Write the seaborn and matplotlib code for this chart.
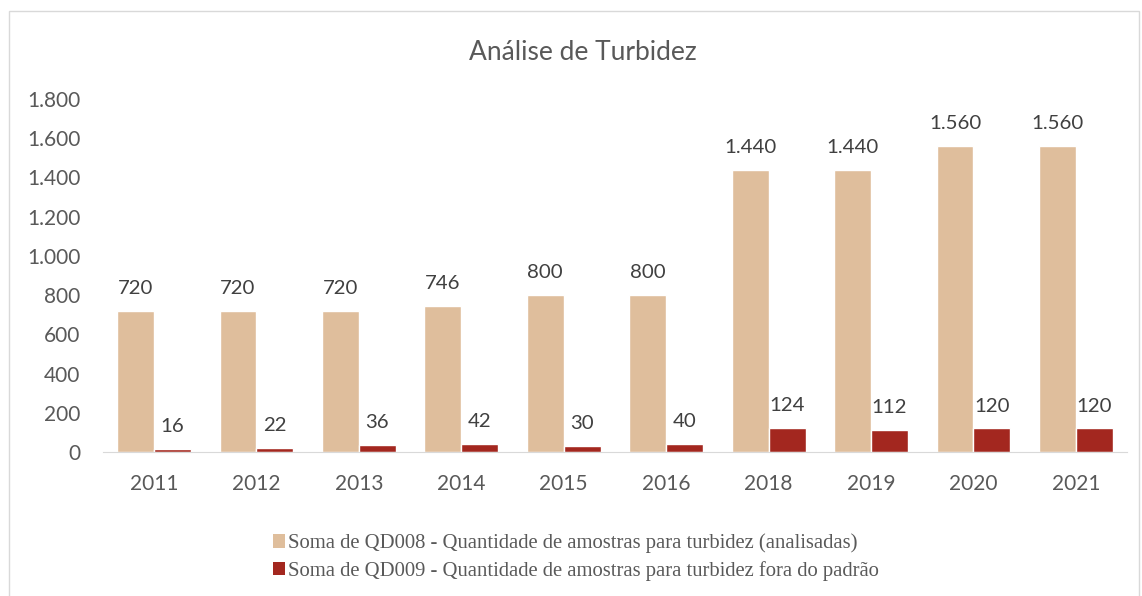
import numpy as np
import pandas as pd
import seaborn as sns
import matplotlib.pyplot as plt
from matplotlib.patches import Patch, Rectangle

# dados
anos = ['2011', '2012', '2013', '2014', '2015', '2016', '2018', '2019', '2020', '2021']
analisadas = [720, 720, 720, 746, 800, 800, 1440, 1440, 1560, 1560]
fora_padrao = [16, 22, 36, 42, 30, 40, 124, 112, 120, 120]
serie_nomes = ['Soma de QD008 - Quantidade de amostras para turbidez (analisadas)',
               'Soma de QD009 - Quantidade de amostras para turbidez fora do padrão']
cores = ['#DFBE9C', '#A3271F']

df = pd.DataFrame({'ano': anos * 2,
                   'valor': analisadas + fora_padrao,
                   'serie': [serie_nomes[0]] * len(anos) + [serie_nomes[1]] * len(anos)})

sns.set_style('white')
plt.rcParams['font.family'] = ['Lato', 'DejaVu Sans']

fig = plt.figure(figsize=(11.42, 5.96), dpi=100)
ax = fig.add_axes([0.090, 0.2416, 0.897, 0.5923])

sns.barplot(data=df, x='ano', y='valor', hue='serie', palette=cores,
            width=0.72, ax=ax, legend=False, saturation=1)

ax.set_ylim(0, 1800)
ax.set_yticks(np.arange(0, 1801, 200))
fmt = lambda v: f'{v:,.0f}'.replace(',', '.')
ax.set_yticklabels([fmt(v) for v in ax.get_yticks()])
ax.set_xlabel('')
ax.set_ylabel('')
ax.tick_params(axis='both', labelsize=15, colors='#595959', length=0)
ax.tick_params(axis='x', pad=16)
ax.tick_params(axis='y', pad=16)

for s in ['top', 'right', 'left']:
    ax.spines[s].set_visible(False)
ax.spines['bottom'].set_color('#D9D9D9')

for cont in ax.containers:
    ax.bar_label(cont, labels=[fmt(b.get_height()) for b in cont],
                 padding=10, fontsize=14.7, color='#404040')

# titulo centrado na area do grafico
fig.text(583 / 1142, 1 - 52 / 596, 'Análise de Turbidez', fontsize=19, color='#595959',
         ha='center', va='center')

fig.patches.append(Rectangle((9 / 1142, -0.01), 1130 / 1142, 1 - 11 / 596 + 0.01,
                             transform=fig.transFigure, fill=False,
                             edgecolor='#D9D9D9', linewidth=1))

handles = [Patch(facecolor=c, edgecolor='none') for c in cores]
fig.legend(handles, serie_nomes, loc='upper left', bbox_to_anchor=(254 / 1142, 1 - 515 / 596),
           frameon=False, handlelength=0.6, handleheight=0.6, handletextpad=0.15,
           labelspacing=0.38, prop={'family': 'Liberation Serif', 'size': 14.9},
           labelcolor='#595959')

fig.savefig('out.png', dpi=100)
